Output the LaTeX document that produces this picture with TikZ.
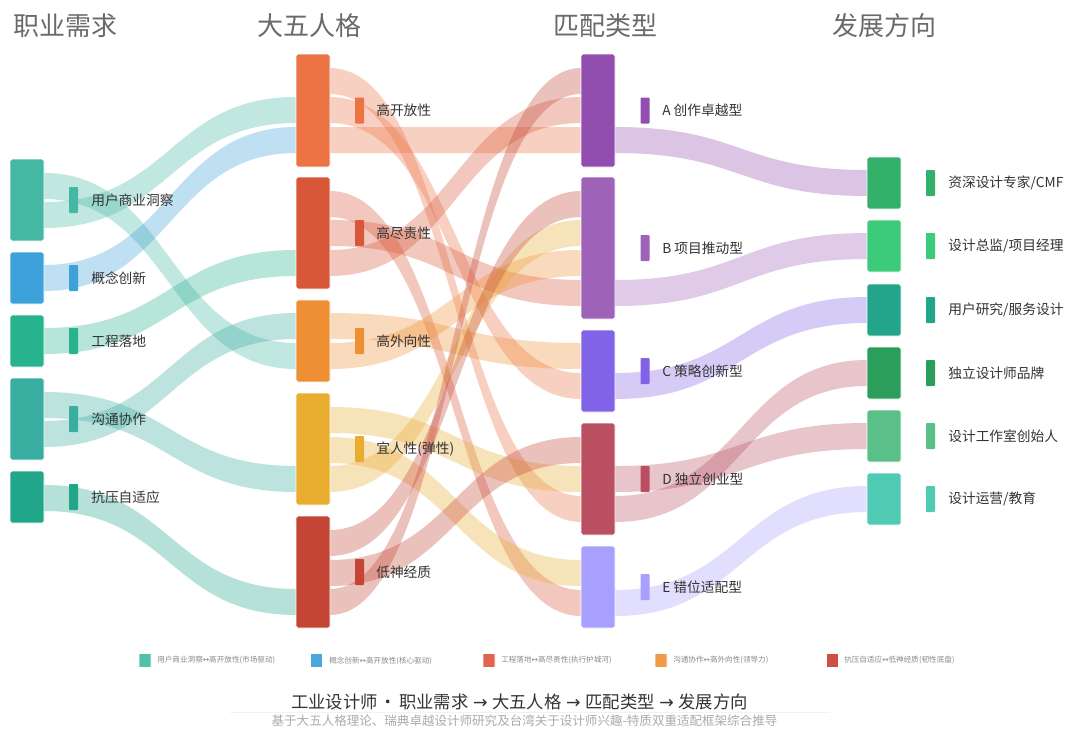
\documentclass[tikz,border=0pt]{standalone}
\usepackage{fontspec}
\setmainfont{Noto Sans CJK SC}
\newfontfamily\sym{DejaVu Sans}
\usetikzlibrary{calc}
\pgfdeclarelayer{bg}
\pgfsetlayers{bg,main}
\definecolor{cu1}{HTML}{45B8A4}\definecolor{cu2}{HTML}{3DA1DA}\definecolor{cu3}{HTML}{27B38E}
\definecolor{cu4}{HTML}{38ADA0}\definecolor{cu5}{HTML}{22A689}
\definecolor{cp1}{HTML}{EC7344}\definecolor{cp2}{HTML}{D95739}\definecolor{cp3}{HTML}{EF8F34}
\definecolor{cp4}{HTML}{E8AC2E}\definecolor{cp5}{HTML}{C44436}
\definecolor{cm1}{HTML}{924EAF}\definecolor{cm2}{HTML}{9E62B8}\definecolor{cm3}{HTML}{8063E6}
\definecolor{cm4}{HTML}{B94F60}\definecolor{cm5}{HTML}{A8A0FE}
\definecolor{cd1}{HTML}{33B06A}\definecolor{cd2}{HTML}{3CCB7A}\definecolor{cd3}{HTML}{22A58B}
\definecolor{cd4}{HTML}{2C9E5C}\definecolor{cd5}{HTML}{5BBF88}\definecolor{cd6}{HTML}{50CAB3}
\definecolor{txt}{HTML}{333333}\definecolor{hdrc}{HTML}{6A6A6A}\definecolor{lgc}{HTML}{8A8A8A}
\definecolor{subc}{HTML}{ABABAB}
\definecolor{lg1}{HTML}{52C1AB}\definecolor{lg2}{HTML}{4AA8DB}\definecolor{lg3}{HTML}{E0654E}
\definecolor{lg4}{HTML}{F39A48}\definecolor{lg5}{HTML}{CB5048}
\tikzset{
 nbox/.style={rectangle, rounded corners=1.2pt, minimum width=25.5pt, inner sep=0pt, outer sep=0pt, draw=white, line width=0.7pt},
 mk/.style={rectangle, rounded corners=0.6pt, minimum width=6.75pt, minimum height=19.5pt, inner sep=0pt, outer sep=0pt},
 lbl/.style={anchor=west, inner sep=0pt, text=txt, font=\fontsize{10.3}{12}\selectfont},
 hdr/.style={text=hdrc, font=\fontsize{19.5}{22}\selectfont, inner sep=0pt},
 lgbox/.style={rectangle, rounded corners=0.5pt, minimum width=9pt, minimum height=10.5pt, inner sep=0pt, draw=white, line width=0.5pt},
 lgt/.style={anchor=west, inner sep=0pt, text=lgc, font=\fontsize{5.7}{7}\selectfont},
}
% sankey node: name, xc, ytop, ybot, color, marker x, label x, label
\newcommand\sk[8]{%
 \node[nbox, fill=#5, minimum height={(#4-#3)*0.75pt}] (#1) at (#2,{(#3+#4)/2}) {};
 \node[mk, fill=#5] (#1m) at (#6,{(#3+#4)/2}) {};
 \node[lbl] (#1t) at (#7,{(#3+#4)/2}) {#8};}
% band: source, offset, target, offset, colour
\newcommand\band[5]{%
 \path ($(#1.north east)+(0,#2)$) coordinate (bA) ($(#1.north east)+(0,#2+26)$) coordinate (bC)
       ($(#3.north west)+(0,#4)$) coordinate (bB) ($(#3.north west)+(0,#4+26)$) coordinate (bD)
       ($(bA)!.5!(bB)$) coordinate (bM);
 \fill[#5, fill opacity=.33] (bA) .. controls (bM|-bA) and (bM|-bB) .. (bB) -- (bD) .. controls (bM|-bD) and (bM|-bC) .. (bC) -- cycle;}
\newcommand\tarr{\hspace{3.5pt}{\sym →}\hspace{3.5pt}}
\begin{document}
\begin{tikzpicture}[x=0.75pt, y=-0.75pt]
\useasboundingbox (0,0) rectangle (1080,732);
% headers
\node[hdr] (h1) at (65,26) {职业需求};
\node[hdr] (h2) at (309,26) {大五人格};
\node[hdr] (h3) at (605,26) {匹配类型};
\node[hdr] (h4) at (884,26) {发展方向};
% column 1
\sk{u1}{27}{159}{241}{cu1}{73.5}{91}{用户商业洞察}
\sk{u2}{27}{252}{304}{cu2}{73.5}{91}{概念创新}
\sk{u3}{27}{315}{367}{cu3}{73.5}{91}{工程落地}
\sk{u4}{27}{378}{460}{cu4}{73.5}{91}{沟通协作}
\sk{u5}{27}{471}{523}{cu5}{73.5}{91}{抗压自适应}
% column 2
\sk{p1}{313}{54}{167}{cp1}{359.5}{376}{高开放性}
\sk{p2}{313}{177}{289}{cp2}{359.5}{376}{高尽责性}
\sk{p3}{313}{300}{382}{cp3}{359.5}{376}{高外向性}
\sk{p4}{313}{393}{505}{cp4}{359.5}{376}{宜人性(弹性)}
\sk{p5}{313}{516}{628}{cp5}{359.5}{376}{低神经质}
% column 3
\sk{m1}{598}{54}{167}{cm1}{645}{662}{A 创作卓越型}
\sk{m2}{598}{177}{319}{cm2}{645}{662}{B 项目推动型}
\sk{m3}{598}{330}{412}{cm3}{645}{662}{C 策略创新型}
\sk{m4}{598}{423}{535}{cm4}{645}{662}{D 独立创业型}
\sk{m5}{598}{546}{628}{cm5}{645}{662}{E 错位适配型}
% column 4
\sk{d1}{884}{157}{209}{cd1}{930.5}{948}{资深设计专家/CMF}
\sk{d2}{884}{220}{272}{cd2}{930.5}{948}{设计总监/项目经理}
\sk{d3}{884}{284}{336}{cd3}{930.5}{948}{用户研究/服务设计}
\sk{d4}{884}{347}{399}{cd4}{930.5}{948}{独立设计师品牌}
\sk{d5}{884}{410}{462}{cd5}{930.5}{948}{设计工作室创始人}
\sk{d6}{884}{473}{525}{cd6}{930.5}{948}{设计运营/教育}
\begin{pgfonlayer}{bg}
\fill[white] (0,0) rectangle (1080,732);
% column 1 -> 2
\band{u1}{14}{p3}{43}{cu1}
\band{u1}{43}{p1}{43}{cu1}
\band{u2}{13}{p1}{73}{cu2}
\band{u3}{13}{p2}{73}{cu3}
\band{u4}{14}{p4}{73}{cu4}
\band{u4}{43}{p3}{13}{cu4}
\band{u5}{14}{p5}{73}{cu5}
% column 2 -> 3
\band{p1}{14}{m4}{73}{cp1}
\band{p1}{43}{m3}{43}{cp1}
\band{p1}{73}{m1}{73}{cp1}
\band{p2}{14}{m5}{44}{cp2}
\band{p2}{43}{m2}{103}{cp2}
\band{p2}{73}{m1}{43}{cp2}
\band{p3}{13}{m3}{13}{cp3}
\band{p3}{43}{m2}{73}{cp3}
\band{p4}{14}{m4}{43}{cp4}
\band{p4}{44}{m5}{14}{cp4}
\band{p4}{73}{m2}{43}{cp4}
\band{p5}{14}{m2}{14}{cp5}
\band{p5}{44}{m4}{14}{cp5}
\band{p5}{73}{m1}{14}{cp5}
% column 3 -> 4
\band{m1}{73}{d1}{13}{cm1}
\band{m2}{103}{d2}{13}{cm2}
\band{m3}{43}{d3}{13}{cm3}
\band{m4}{43}{d5}{13}{cm4}
\band{m4}{73}{d4}{13}{cm4}
\band{m5}{44}{d6}{13}{cm5}
\end{pgfonlayer}
% legend
\node[lgbox, fill=lg1] (l1) at (145,660.5) {};
\node[lgt] (l1t) at (157,660.5) {用户商业洞察{\sym ↔}高开放性(市场驱动)};
\node[lgbox, fill=lg2] (l2) at (316.5,660.5) {};
\node[lgt] (l2t) at (329,660.5) {概念创新{\sym ↔}高开放性(核心驱动)};
\node[lgbox, fill=lg3] (l3) at (489,660.5) {};
\node[lgt] (l3t) at (501,660.5) {工程落地{\sym ↔}高尽责性(执行护城河)};
\node[lgbox, fill=lg4] (l4) at (661,660.5) {};
\node[lgt] (l4t) at (673,660.5) {沟通协作{\sym ↔}高外向性(领导力)};
\node[lgbox, fill=lg5] (l5) at (832.5,660.5) {};
\node[lgt] (l5t) at (844,660.5) {抗压自适应{\sym ↔}低神经质(韧性底盘)};
% titles
\node[text=txt, font=\fontsize{13}{15}\selectfont, inner sep=0pt] (title) at (519.5,702) {工业设计师\hspace{1.5pt}·\hspace{1.5pt}职业需求\tarr 大五人格\tarr 匹配类型\tarr 发展方向};
\draw[gray!10, line width=0.5pt] (230,712) coordinate (s1) -- (830,712) coordinate (s2);
\node[text=subc, font=\fontsize{9.4}{11}\selectfont, inner sep=0pt] (sub) at (524.5,720.5) {基于大五人格理论、瑞典卓越设计师研究及台湾关于设计师兴趣-特质双重适配框架综合推导};
\end{tikzpicture}
\end{document}
